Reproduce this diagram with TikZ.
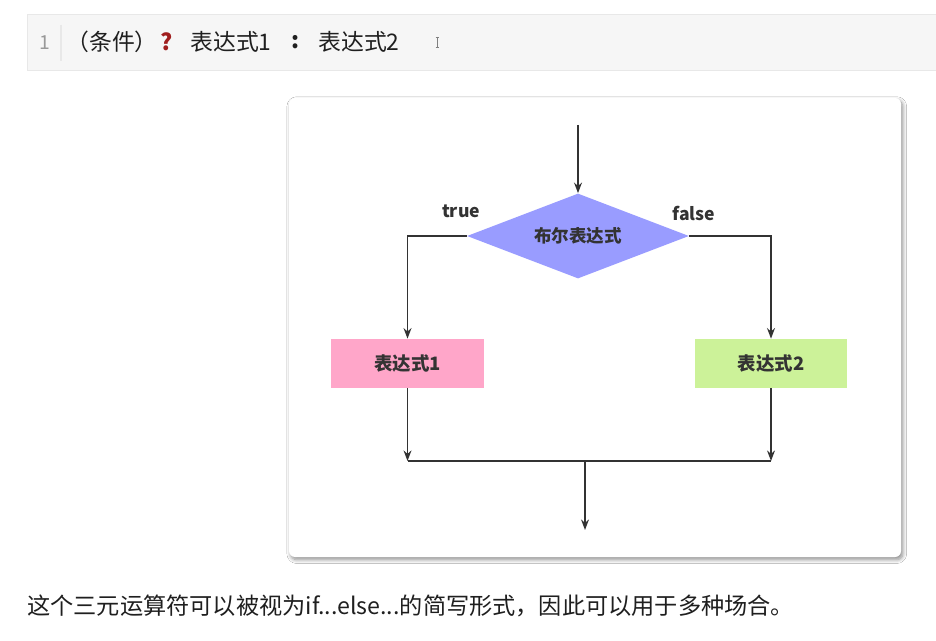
\documentclass[tikz,border=0pt]{standalone}
\usepackage{fontspec}
\setmainfont{Noto Sans CJK SC}
\usetikzlibrary{shapes.geometric,arrows.meta,shadows.blur}
\definecolor{linegray}{RGB}{51,51,51}
\definecolor{textgray}{RGB}{51,51,51}
\definecolor{condblue}{RGB}{153,156,255}
\definecolor{pinkbox}{RGB}{255,166,201}
\definecolor{greenbox}{RGB}{204,242,153}
\definecolor{codebg}{RGB}{246,246,246}
\definecolor{codeline}{RGB}{232,232,232}
\definecolor{qred}{RGB}{160,30,30}

\begin{document}
\begin{tikzpicture}[x=0.02cm, y=-0.02cm,
    flow/.style={-{Stealth[length=6pt,width=4.5pt]}, line width=0.85pt, draw=linegray},
    joinline/.style={line width=0.85pt, draw=linegray},
    cond/.style={diamond, aspect=2.6, fill=condblue, minimum width=4.44cm, minimum height=1.7cm,
                 inner sep=0pt, font=\fontsize{10}{12}\selectfont\bfseries, text=textgray},
    expr/.style={rectangle, minimum width=3.06cm, minimum height=0.98cm, inner sep=0pt,
                 font=\fontsize{10.5}{12}\selectfont\bfseries, text=textgray},
    lbl/.style={font=\fontsize{10}{12}\selectfont\bfseries, text=textgray},
    code/.style={inner sep=0pt, font=\fontsize{13}{15}\selectfont, text=black!88}
]
\useasboundingbox (0,0) rectangle (936,641);
\fill[white] (0,0) rectangle (936,641);

% code line
\draw[codeline, fill=codebg] (27,14) rectangle (936,70);
\draw[codeline, line width=0.8pt] (61,25) -- (61,61);
\node[font=\fontsize{11}{13}\selectfont, text=gray!80] (lineno) at (45,43) {1};
\node[code, anchor=west] (cnd)  at (66,42)  {（条件）};
\node[code, text=qred, font=\fontsize{13}{15}\selectfont\bfseries] (qm) at (167,42) {?};
\node[code, anchor=west] (ex1)  at (190,42) {表达式1};
\node[code, font=\fontsize{13}{15}\selectfont\bfseries] (col) at (296,42) {:};
\node[code, anchor=west] (ex2)  at (318,42) {表达式2};
\draw[gray, line width=0.5pt] (437,37) -- (437,47) (435.5,37) -- (438.5,37) (435.5,47) -- (438.5,47);

% card
\fill[white, rounded corners=0.12cm,
      blur shadow={shadow xshift=1pt, shadow yshift=-1.5pt, shadow blur steps=8, shadow opacity=45}]
    (289,98) rectangle (901,557);

\node[cond] (test) at (578,236) {布尔表达式};
\node[expr, fill=pinkbox]  (expr1) at (407.5,363.5) {表达式1};
\node[expr, fill=greenbox] (expr2) at (771,363.5) {表达式2};
\node[lbl] (true)  at (461,211) {true};
\node[lbl] (false) at (694,213) {false};

\coordinate (start) at (578,125);
\coordinate (j1) at (407.5,461);
\coordinate (j2) at (771,461);
\coordinate (j3) at (585,461);
\coordinate (out) at (585,530);

\draw[flow] (start) -- (test);
\draw[flow] (test.west) -| (expr1.north);
\draw[flow] (test.east) -| (expr2.north);
\draw[flow] (expr1.south) -- (j1);
\draw[flow] (expr2.south) -- (j2);
\draw[joinline] (j1) -- (j2);
\draw[flow] (j3) -- (out);

% note under the card
\node[anchor=west, inner sep=0pt, font=\fontsize{13.2}{16}\selectfont, text=black!88] (note) at (27,606)
    {这个三元运算符可以被视为if...else...的简写形式，因此可以用于多种场合。};

\end{tikzpicture}
\end{document}
